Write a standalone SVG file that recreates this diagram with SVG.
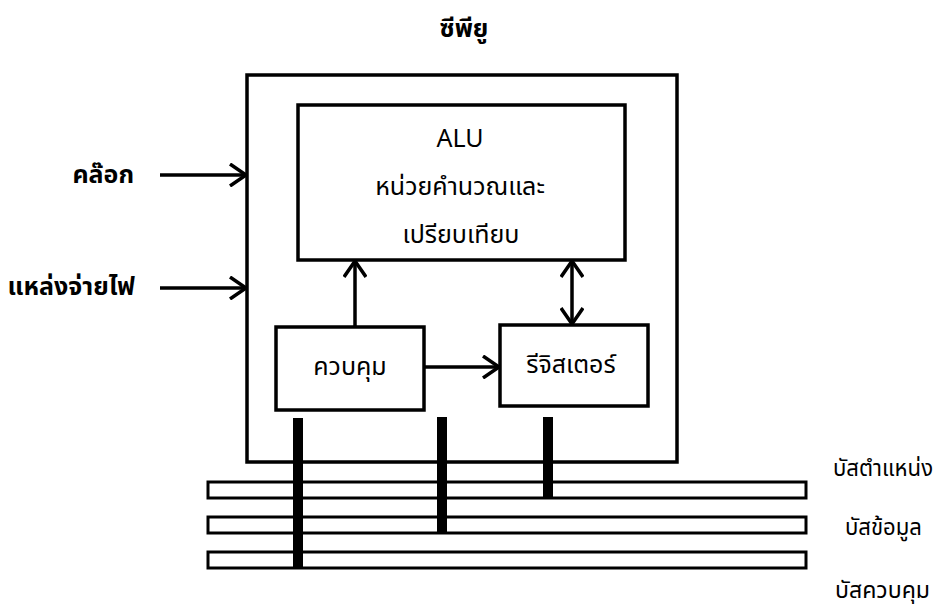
<svg xmlns="http://www.w3.org/2000/svg" width="938" height="608" viewBox="0 0 938 608">
  <style>
    .box { fill: #fff; stroke: #000; stroke-width: 3.5; }
    .bus { fill: #fff; stroke: #000; stroke-width: 3; }
    .stub { fill: #000; }
    .wire { stroke: #000; stroke-width: 3.5; fill: none; }
    .t { font-family: "Noto Sans Thai", "Noto Sans", "Liberation Sans", sans-serif; font-size: 25px; fill: #000; }
    .s { font-size: 23px; }
    .b { font-weight: bold; }
    .m { text-anchor: middle; }
    .e { text-anchor: end; }
  </style>
  <defs>
    <marker id="head" markerUnits="userSpaceOnUse" viewBox="0 0 20 24" markerWidth="20" markerHeight="24" refX="18" refY="12" orient="auto-start-reverse">
      <path d="M2,1 L18,12 L2,23" fill="none" stroke="#000" stroke-width="3.5"/>
    </marker>
  </defs>

  <g id="title">
    <text class="t b m" x="464" y="37">ซีพียู</text>
  </g>

  <g id="cpu">
    <rect class="box" x="247" y="75" width="430" height="387"/>
  </g>

  <g id="alu">
    <rect class="box" x="298" y="105" width="327" height="155"/>
    <text class="t m" x="460" y="147">ALU</text>
    <text class="t m" x="460" y="195">หน่วยคำนวณและ</text>
    <text class="t m" x="461" y="243">เปรียบเทียบ</text>
  </g>

  <g id="control">
    <rect class="box" x="276" y="327" width="148" height="83"/>
    <text class="t m" x="350" y="375">ควบคุม</text>
  </g>

  <g id="register">
    <rect class="box" x="500" y="325" width="148" height="81"/>
    <text class="t m" x="571" y="373">รีจิสเตอร์</text>
  </g>

  <g id="inputs">
    <text class="t b e" x="134" y="183">คล๊อก</text>
    <text class="t b e" x="135" y="295">แหล่งจ่ายไฟ</text>
  </g>

  <g id="buses">
    <rect class="bus" x="208" y="482" width="598" height="16"/>
    <rect class="bus" x="208" y="517" width="598" height="16"/>
    <rect class="bus" x="208" y="552" width="598" height="16"/>
    <text class="t s" x="833" y="476" textLength="100" lengthAdjust="spacingAndGlyphs">บัสตำแหน่ง</text>
    <text class="t s" x="845" y="535" textLength="77" lengthAdjust="spacingAndGlyphs">บัสข้อมูล</text>
    <text class="t s" x="835" y="598" textLength="95" lengthAdjust="spacingAndGlyphs">บัสควบคุม</text>
  </g>

  <g id="connectors">
    <line class="wire" x1="160" y1="175" x2="246" y2="175" marker-end="url(#head)"/>
    <line class="wire" x1="160" y1="288" x2="246" y2="288" marker-end="url(#head)"/>
    <line class="wire" x1="355" y1="326" x2="355" y2="261" marker-end="url(#head)"/>
    <line class="wire" x1="572" y1="261" x2="572" y2="324" marker-start="url(#head)" marker-end="url(#head)"/>
    <line class="wire" x1="425" y1="367" x2="499" y2="367" marker-end="url(#head)"/>
    <rect class="stub" x="293" y="418" width="10" height="151"/>
    <rect class="stub" x="437" y="417" width="10" height="117"/>
    <rect class="stub" x="543" y="417" width="10" height="82"/>
  </g>
</svg>
